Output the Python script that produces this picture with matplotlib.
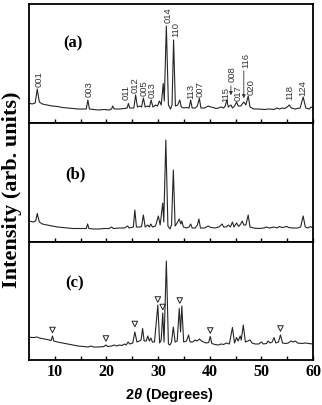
import matplotlib
matplotlib.use("Agg")
import matplotlib.pyplot as plt

plt.rcParams['mathtext.fontset'] = 'custom'
plt.rcParams['mathtext.rm'] = 'Liberation Sans:bold'
plt.rcParams['mathtext.it'] = 'Liberation Sans:italic:bold'

# ---- data (2theta in degrees, intensity in arb. units) ----
theta_a = [5.0, 5.6, 6.2, 6.6, 7.0, 7.6, 8.5, 9.5, 10.5, 11.5, 12.5, 13.5, 14.5, 15.5,
           16.1, 16.4, 16.7, 17.5, 18.5, 19.5, 20.5, 21.0, 21.2, 21.5, 22.5, 23.5, 24.0,
           24.25, 24.5, 25.3, 25.65, 26.0, 26.5, 26.8, 27.15, 27.5, 28.0, 28.35, 28.65,
           29.0, 29.5, 29.9, 30.25, 30.6, 31.0, 31.2, 31.6, 32.0, 32.4, 32.7, 33.0, 33.35,
           33.8, 34.2, 34.5, 35.0, 35.5, 36.0, 36.3, 36.6, 37.2, 37.6, 38.0, 38.3, 39.0,
           39.7, 40.2, 40.7, 41.2, 41.7, 42.2, 42.7, 43.0, 43.3, 43.6, 44.1, 44.4, 44.8,
           45.2, 45.5, 46.0, 46.3, 46.6, 47.0, 47.45, 47.8, 48.5, 49.5, 50.5, 51.5, 52.5,
           53.0, 53.5, 54.0, 54.5, 55.0, 55.4, 55.8, 56.5, 57.5, 58.1, 58.6, 59.3, 59.6, 60.0]
int_a = [20, 19, 20, 34, 21, 19, 18, 17, 16.5, 15.5, 15, 14.5, 14, 14,
         14, 23, 14, 13.5, 13, 13.5, 13, 14, 17, 14, 14, 14.5, 15,
         19.5, 15, 15, 28, 16, 17, 16, 25, 16, 17, 16, 23,
         16, 18, 17, 22, 18, 39.5, 22, 97, 18, 14, 18, 83, 17,
         18, 23, 16, 15, 15.5, 15, 23, 15, 15, 17, 24.5, 15, 15,
         17, 16, 15.5, 14.5, 15, 16, 15, 17, 23, 16, 18, 15, 17,
         21, 17, 17, 19, 21, 18, 27, 16, 14, 14, 13.5, 14, 13.5,
         15, 14, 15, 14.5, 16, 18, 15, 14, 15, 26, 15, 14, 16, 15]

theta_b = [5.0, 5.8, 6.3, 6.6, 7.0, 7.6, 8.5, 9.5, 10.5, 11.5, 12.5, 13.5, 14.5, 15.5,
           16.1, 16.35, 16.6, 17.5, 18.5, 19.5, 20.5, 21.0, 21.3, 22.5, 23.5, 24.1, 24.4,
           25.2, 25.5, 25.8, 26.5, 26.8, 27.15, 27.5, 28.0, 28.3, 28.6, 28.9, 29.5, 30.05,
           30.4, 30.9, 31.1, 31.5, 31.9, 32.3, 32.6, 32.95, 33.3, 33.8, 34.1, 34.4, 34.6,
           34.9, 35.5, 36.0, 36.3, 36.6, 37.2, 37.6, 37.9, 38.2, 39.0, 39.7, 40.2, 41.0,
           41.8, 42.4, 42.7, 43.2, 43.6, 44.0, 44.4, 44.7, 45.2, 45.6, 46.0, 46.3, 46.6,
           47.0, 47.45, 47.8, 48.5, 49.5, 50.5, 51.0, 51.5, 52.0, 52.5, 53.0, 53.5, 54.0,
           54.5, 54.9, 55.3, 56.0, 57.0, 57.6, 58.1, 58.5, 59.0, 59.5, 60.0]
int_b = [21, 20, 21, 28.5, 20, 18, 17, 16, 15, 14.5, 14, 13.5, 13.5, 13.5,
         13.5, 18, 13.5, 13, 13, 13.5, 13.5, 15, 13.5, 14, 14, 16, 14,
         15, 32, 15, 15, 15.5, 27, 15, 17, 15, 18, 15, 16, 26,
         17, 39, 20, 102, 16, 13, 17, 72, 16, 20, 23, 18, 21,
         15, 14, 15, 18, 14, 14, 17, 23, 14, 14, 16, 14.5, 14,
         15, 18, 15, 15, 17, 15, 20, 15, 19, 15.5, 18, 21, 17,
         17, 27, 15, 14, 13.5, 14, 15, 14, 14.5, 15, 14, 15.5, 14.5,
         15, 15.5, 14.5, 14, 14, 15, 26, 15, 14, 15.5, 14]

theta_c = [5.0, 5.5, 6.0, 6.5, 7.0, 7.5, 8.0, 8.5, 9.0, 9.3, 9.55, 9.8, 10.5, 11.5,
           12.5, 13.5, 14.5, 15.5, 16.5, 17.0, 17.5, 18.5, 19.5, 19.9, 20.2, 21.0, 21.5,
           22.0, 22.5, 23.0, 23.5, 23.8, 24.2, 24.5, 25.1, 25.5, 25.9, 26.4, 26.7, 27.0,
           27.3, 27.7, 28.0, 28.3, 28.6, 28.9, 29.3, 29.95, 30.3, 30.6, 30.9, 31.15, 31.6,
           32.0, 32.3, 32.6, 32.95, 33.3, 33.7, 34.1, 34.35, 34.6, 34.95, 35.5, 35.9, 36.2,
           36.7, 37.2, 37.6, 38.0, 38.4, 38.8, 39.3, 39.8, 40.1, 40.4, 41.0, 41.7, 42.2,
           42.7, 43.2, 43.8, 44.4, 44.8, 45.2, 45.5, 45.9, 46.1, 46.5, 46.9, 47.4, 47.8,
           48.2, 48.8, 49.5, 50.0, 50.4, 51.0, 51.3, 51.7, 52.1, 52.45, 52.8, 53.3, 53.7,
           54.1, 54.7, 55.2, 55.7, 56.2, 56.6, 57.0, 57.8, 58.5, 59.2, 60.0]
int_c = [23, 22.5, 22.5, 23, 22, 21.5, 21, 20.5, 20, 19.5, 24, 19, 18, 17,
         16, 15, 14, 13.5, 13, 14, 13, 13, 13.5, 15, 13.5, 14, 15,
         14, 15, 14.5, 16, 15, 18, 16, 17, 28, 18, 19, 20, 31.5,
         19, 19, 24, 19, 22, 18, 18, 55, 17, 20, 47, 18, 99,
         16, 15, 18, 33, 18, 19, 51.5, 28, 54, 18, 19, 25, 18,
         18, 20, 19, 21, 19, 18, 17, 17.5, 23.5, 16.5, 15.5, 15, 16,
         15.5, 17, 16, 32.5, 17, 22.5, 19, 24, 20, 35, 18, 19, 20,
         17, 16, 16, 18, 16, 16.5, 19, 17, 18, 22.5, 17, 18, 25,
         17, 16.5, 17, 19, 18, 19, 17, 16.5, 17, 16.5, 16]

# Miller indices in panel (a): label, x, bottom of text
hkl_labels = ['001', '003', '011', '012', '005', '013', '014', '110', '113', '007',
              '115', '008', '017', '116', '020', '118', '124']
hkl_x = [6.9, 16.7, 23.8, 25.5, 27.3, 28.9, 32.0, 33.4, 36.4, 38.1,
         43.2, 44.4, 45.5, 47.0, 48.1, 55.5, 58.1]
hkl_y = [36, 25.7, 23, 30, 27.3, 25, 100.3, 86, 24, 25.7,
         21.3, 41, 22, 55.5, 28, 22.5, 27]

# impurity markers in panel (c)
tri_x = [9.55, 19.9, 25.5, 29.95, 30.9, 34.2, 40.1, 53.7]
tri_y = [30, 21.5, 36, 60.5, 53, 59.5, 29.5, 31.5]

panels = [('(a)', theta_a, int_a, 13.5, 80), ('(b)', theta_b, int_b, 13.9, 68),
          ('(c)', theta_c, int_c, 13.9, 77)]

fig = plt.figure(figsize=(3.22, 4.05), dpi=100)
left, width = 29 / 322, 284 / 322
tops = [4, 123, 242]
bottoms = [123, 242, 360]

axes = []
for i, (tag, tx, ty, tag_x, tag_y) in enumerate(panels):
    b = 1 - bottoms[i] / 405
    h = (bottoms[i] - tops[i]) / 405
    ax = fig.add_axes([left, b, width, h])
    ax.plot(tx, ty, color='#262626', lw=0.8)
    ax.set_xlim(5, 60)
    ax.set_ylim(0, bottoms[i] - tops[i])
    ax.set_yticks([])
    ax.set_xticks([10, 20, 30, 40, 50, 60])
    ax.set_xticks([15, 25, 35, 45, 55], minor=True)
    ax.tick_params(axis='x', which='both', direction='in', length=3, width=1.0,
                   top=False)
    for s in ax.spines.values():
        s.set_linewidth(1.3)
    ax.text(tag_x, tag_y, tag, fontsize=12, fontweight='bold', family='Liberation Serif',
            ha='center', va='center')
    if i < 2:
        ax.tick_params(axis='x', labelbottom=False)
    else:
        ax.tick_params(axis='x', pad=3)
        for lab in ax.get_xticklabels():
            lab.set_fontfamily('Liberation Serif')
            lab.set_fontweight('bold')
            lab.set_fontsize(11.5)
    axes.append(ax)

ax_a = axes[0]
for lab, x, y in zip(hkl_labels, hkl_x, hkl_y):
    ax_a.text(x, y, lab, rotation=90, fontsize=6.8, family='Liberation Sans',
              ha='center', va='bottom', color='#333333')
# pointer lines for 008 and 116
ax_a.annotate('', xy=(44.1, 25), xytext=(44.1, 40),
              arrowprops=dict(arrowstyle='-|>', lw=0.6, color='#333333',
                              mutation_scale=5))
ax_a.annotate('', xy=(46.6, 22), xytext=(46.6, 55),
              arrowprops=dict(arrowstyle='-|>', lw=0.6, color='#333333',
                              mutation_scale=5))

axes[2].scatter(tri_x, tri_y, marker='v', s=16, facecolors='none',
                edgecolors='#222222', linewidths=0.7)

fig.text(12 / 322, 1 - 190 / 405, 'Intensity (arb. units)', rotation=90,
         fontsize=16, fontweight='bold', family='Liberation Serif',
         ha='center', va='center')
fig.text(170 / 322, 1 - 395 / 405, r'2$\mathit{\theta}$ (Degrees)', fontsize=10.5,
         fontweight='bold', family='Liberation Sans', ha='center', va='center')

fig.savefig('out.png', dpi=100)
